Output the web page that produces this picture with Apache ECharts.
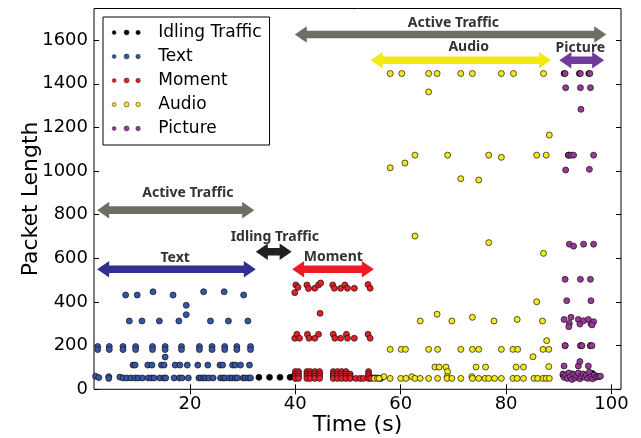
<!DOCTYPE html>
<html>
<head>
<meta charset="utf-8">
<script src="https://cdn.jsdelivr.net/npm/echarts@6/dist/echarts.min.js"></script>
<style>html,body{margin:0;padding:0;background:#fff;}#c{width:641px;height:438px;}</style>
</head>
<body>
<div id="c"></div>
<script>
// ---- tick labels ----
var xTicks = [20, 40, 60, 80, 100];
var yTicks = [0, 200, 400, 600, 800, 1000, 1200, 1400, 1600];
var seriesNames = ['Idling Traffic', 'Text', 'Moment', 'Audio', 'Picture'];

// ---- series values [time, packet length] ----
var idling = [[33.1,55],[35.1,55],[37.1,55],[39.0,55],[39.6,58],[40.0,52],[54.6,52],[55.1,52],[55.6,52],[56.2,50],
  [91.8,1073],[91.0,1447],[93.9,1447],[95.7,1447],[91.2,200],[94.2,200],[96.0,200],
  [90.8,65],[91.5,58],[92.6,70],[93.6,62],[94.8,67],[95.9,60],[96.4,72]];

var text = [[7.8,432],[10.0,432],[13.0,447],[16.8,432],[22.6,447],[26.5,447],[30.2,432],
  [8.5,313],[10.9,313],[14.2,313],[17.9,313],[23.9,313],[27.3,313],[31.0,313],
  [19.3,385],[19.3,342],
  [2.5,196],[2.5,182],[4.7,196],[4.7,182],[7.3,196],[7.3,182],[9.7,196],[9.7,182],[12.9,196],[12.9,182],
  [15.3,196],[15.3,182],[18.4,196],[18.4,182],[21.8,196],[21.8,182],[24.2,196],[24.2,182],[26.6,196],[26.6,182],
  [28.9,196],[28.9,182],[31.5,196],[31.5,182],
  [15.3,148],
  [9.2,111],[9.6,111],[12.0,111],[12.8,111],[14.6,111],[15.1,111],[17.2,111],[18.1,111],[19.5,111],
  [21.5,111],[23.4,111],[25.7,111],[26.2,111],[28.1,111],[28.6,111],[29.6,111],[31.3,111],
  [2.1,60],[2.7,54],[4.6,58],[4.6,50],[6.7,56],[7.3,52],[8.0,52],[8.8,52],[9.6,52],[10.2,52],[11.0,52],[12.1,52],
  [12.7,52],[13.2,52],[14.3,52],[15.1,52],[15.4,52],[17.0,52],[18.0,52],[18.5,52],[19.7,52],[21.7,52],
  [22.1,52],[22.6,52],[23.0,52],[23.6,52],[24.4,52],[25.8,52],[26.3,52],[26.7,52],[27.5,52],[28.0,52],
  [28.6,52],[29.0,52],[30.1,52],[30.5,52],[31.1,52],[31.5,52]];

var moment = [[39.9,443],[40.1,478],[40.5,467],[42.2,478],[42.5,462],[43.7,463],[44.4,478],[44.8,487],
  [47.1,478],[47.4,463],[48.6,463],[49.4,478],[49.9,463],[51.2,463],[53.8,480],[54.2,463],
  [44.7,348],
  [39.9,234],[40.3,252],[40.8,234],[42.3,252],[42.6,234],[43.7,234],[44.4,252],[47.2,252],[47.5,234],
  [48.6,234],[49.7,252],[49.9,234],[51.2,234],[53.8,252],[54.2,234],
  [40.0,81],[40.0,70],[40.0,60],[40.0,50],[40.6,81],[40.6,70],[40.6,60],[40.6,50],
  [42.2,81],[42.2,70],[42.2,60],[42.2,50],[42.8,81],[42.8,70],[42.8,60],[42.8,50],
  [43.7,81],[43.7,70],[43.7,60],[43.7,50],[44.6,81],[44.6,70],[44.6,60],[44.6,50],
  [47.2,81],[47.2,70],[47.2,60],[47.2,50],[48.0,81],[48.0,70],[48.0,60],[48.0,50],
  [48.8,81],[48.8,70],[48.8,60],[48.8,50],[49.6,81],[49.6,70],[49.6,60],[49.6,50],
  [50.4,70],[50.4,60],[50.4,50],[51.5,50],[52.3,50],[52.9,50],
  [53.9,81],[53.9,70],[53.9,60],[53.9,50],[54.3,50]];

var audio = [[58.0,1447],[60.2,1447],[65.3,1447],[66.9,1447],[71.4,1447],[73.6,1447],[79.1,1447],[81.4,1447],[87.1,1447],
  [65.3,1363],[88.2,1165],
  [58.0,1015],[60.8,1037],[62.7,1073],[68.9,1073],[71.4,965],[74.8,959],[76.7,1073],[79.1,1063],[85.8,1073],[87.6,1073],
  [62.7,702],[76.7,672],[87.1,623],[85.8,401],
  [63.7,313],[66.9,344],[69.7,313],[73.6,330],[77.7,313],[82.1,320],[86.9,313],
  [87.7,223],
  [58.0,183],[60.1,183],[60.9,183],[65.3,183],[67.0,183],[71.4,183],[73.6,183],[74.8,183],[79.1,183],
  [81.3,183],[82.2,183],[87.0,183],[88.1,183],
  [85.1,149],
  [66.5,102],[67.3,102],[68.6,102],[74.3,102],[76.1,102],[81.9,102],[83.3,102],[88.1,104],
  [68.9,81],
  [56.8,58],[62.1,58],[68.8,58],[73.5,58],
  [55.0,50],[55.6,50],[55.9,50],[58.0,50],[60.0,50],[61.0,50],[62.7,50],[63.7,50],[65.3,50],[67.0,50],[68.8,50],
  [69.7,50],[71.4,50],[73.6,50],[74.8,50],[76.0,50],[76.7,50],[77.8,50],[79.1,50],[81.3,50],[82.1,50],
  [83.3,50],[85.3,50],[86.0,50],[87.0,50],[87.6,50],[88.2,50]];

var picture = [[91.2,1447],[94.1,1447],[95.9,1447],[91.3,1382],[94.1,1382],[96.0,1382],[94.2,1283],
  [91.9,1073],[92.3,1073],[92.8,1073],[96.6,1073],[91.3,1005],[95.8,1008],
  [92.0,665],[92.8,656],[94.7,665],[96.6,665],
  [91.2,504],[94.1,504],[96.0,504],
  [91.5,406],[96.1,406],
  [91.0,320],[92.3,330],[92.0,302],[91.9,287],[93.7,320],[94.0,299],[94.7,314],[95.6,320],[96.1,300],[96.6,310],[96.3,295],
  [91.2,200],[94.1,200],[94.4,200],[96.0,200],[96.3,200],
  [91.0,107],[93.7,107],[94.0,127],[95.6,107],
  [90.8,70],[91.0,55],[91.3,65],[91.6,50],[91.9,75],[92.2,58],[92.5,45],[92.8,68],[93.1,52],[93.4,62],
  [93.7,75],[94.0,48],[94.3,60],[94.6,70],[94.9,55],[95.2,65],[95.5,50],[95.8,78],[96.1,58],[96.4,48],
  [96.7,66],[97.0,55],[97.3,60],[97.6,58],[97.9,60]];

// ---- annotation arrows ----
var arrowLabels = ['Active Traffic', 'Text', 'Idling Traffic', 'Moment', 'Active Traffic', 'Audio', 'Picture'];
var arrowStart  = [2.4, 2.4, 32.5, 39.4, 39.9, 54.3, 90.1];
var arrowEnd    = [32.2, 32.5, 39.3, 54.9, 99.0, 88.5, 98.6];
var arrowY      = [821, 550, 630, 550, 1626, 1508, 1508];
var arrowTextX  = [19.6, 17.2, 36.1, 47.2, 70.0, 72.9, 94.1];
var arrowTextY  = [899, 600, 699, 607, 1678, 1568, 1565];

var colors = ['#000000', '#3555a5', '#e3202a', '#f2ea1c', '#9c379c'];
var arrowColors = ['#6d6f67', '#2e3192', '#231f20', '#ed1c24', '#6d6f67', '#f2e814', '#6f3b9b'];

var chart = echarts.init(document.getElementById('c'), null, {renderer: 'canvas'});

var legendIcon = 'path://M0.1,2.5a1.9,1.9 0 1,0 3.8,0a1.9,1.9 0 1,0 -3.8,0ZM12,2.5a2.5,2.5 0 1,0 5,0a2.5,2.5 0 1,0 -5,0ZM23.8,2.5a2.2,2.2 0 1,0 4.4,0a2.2,2.2 0 1,0 -4.4,0Z';

var allData = [idling, text, moment, audio, picture];
var series = allData.map(function (d, i) {
  return {
    name: seriesNames[i],
    type: 'scatter',
    data: d,
    symbolSize: 6,
    z: 2 + i,
    itemStyle: {color: colors[i], borderColor: '#111', borderWidth: 0.7, opacity: 1}
  };
});

var fontAx = 'DejaVu Sans';
var option = {
  animation: false,
  backgroundColor: '#fff',
  grid: {left: 94, right: 20, top: 8.5, bottom: 48.7, show: true, borderColor: '#000', borderWidth: 1,
    outerBoundsMode: 'none', containLabel: false},
  legend: {
    orient: 'vertical', left: 103, top: 17,
    padding: [7, 8, 8, 9],
    itemWidth: 28, itemHeight: 5, itemGap: 7,
    borderColor: '#000', borderWidth: 1, backgroundColor: '#fff',
    icon: legendIcon,
    data: seriesNames,
    textStyle: {fontFamily: fontAx, fontSize: 17, color: '#000', lineHeight: 17, padding: [0, 0, 0, 13]},
    itemStyle: {borderWidth: 0.5, borderColor: '#111'}
  },
  xAxis: [{
    type: 'value', min: 1.8, max: 101.8,
    name: 'Time (s)', nameLocation: 'middle', nameGap: 25, nameMoveOverlap: false,
    nameTextStyle: {fontFamily: fontAx, fontSize: 22, color: '#000'},
    axisLine: {show: false}, splitLine: {show: false},
    axisTick: {inside: true, length: 5, customValues: xTicks, lineStyle: {color: '#000'}},
    axisLabel: {customValues: xTicks, fontFamily: fontAx, fontSize: 18, color: '#000', margin: 6,
      formatter: function (v) { return String(v); }}
  }, {
    type: 'value', min: 1.8, max: 101.8, position: 'top',
    axisLine: {show: false}, splitLine: {show: false},
    axisTick: {inside: true, length: 5, customValues: xTicks, lineStyle: {color: '#000'}},
    axisLabel: {show: false}
  }],
  yAxis: [{
    type: 'value', min: 0, max: 1745,
    name: 'Packet Length', nameLocation: 'middle', nameGap: 52, nameMoveOverlap: false,
    nameTextStyle: {fontFamily: fontAx, fontSize: 22, color: '#000'},
    axisLine: {show: false}, splitLine: {show: false},
    axisTick: {inside: true, length: 5, customValues: yTicks, lineStyle: {color: '#000'}},
    axisLabel: {customValues: yTicks, fontFamily: fontAx, fontSize: 18, color: '#000', margin: 6,
      formatter: function (v) { return String(v); }}
  }, {
    type: 'value', min: 0, max: 1745, position: 'right',
    axisLine: {show: false}, splitLine: {show: false},
    axisTick: {inside: true, length: 5, customValues: yTicks, lineStyle: {color: '#000'}},
    axisLabel: {show: false}
  }],
  series: series
};
chart.setOption(option);

// arrows drawn in data coordinates through the chart's scales
var graphics = [];
var HL = 12, HH = 8.3, SH = 3.8;
for (var i = 0; i < arrowLabels.length; i++) {
  var p0 = chart.convertToPixel({xAxisIndex: 0, yAxisIndex: 0}, [arrowStart[i], arrowY[i]]);
  var p1 = chart.convertToPixel({xAxisIndex: 0, yAxisIndex: 0}, [arrowEnd[i], arrowY[i]]);
  var x0 = p0[0], x1 = p1[0], y = p0[1];
  graphics.push({
    type: 'polygon', z: 50,
    shape: {points: [[x0, y], [x0 + HL, y - HH], [x0 + HL, y - SH], [x1 - HL, y - SH], [x1 - HL, y - HH],
      [x1, y], [x1 - HL, y + HH], [x1 - HL, y + SH], [x0 + HL, y + SH], [x0 + HL, y + HH]]},
    style: {fill: arrowColors[i]}
  });
  var tp = chart.convertToPixel({xAxisIndex: 0, yAxisIndex: 0}, [arrowTextX[i], arrowTextY[i]]);
  graphics.push({
    type: 'text', z: 60, x: tp[0], y: tp[1],
    style: {text: arrowLabels[i], fill: '#333', font: 'bold 14px "Noto Sans"', align: 'center', verticalAlign: 'middle'}
  });
}
chart.setOption({graphic: graphics});
</script>
</body>
</html>
